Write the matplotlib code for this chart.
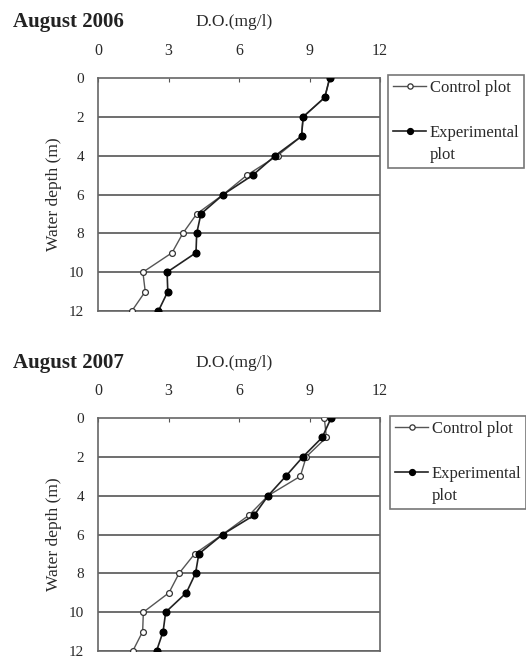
import matplotlib
matplotlib.use("Agg")
import matplotlib.pyplot as plt
from matplotlib.lines import Line2D

depth = [0, 1, 2, 3, 4, 5, 6, 7, 8, 9, 10, 11, 12]
ctrl_2006 = [9.86, 9.65, 8.73, 8.66, 7.64, 6.34, 5.33, 4.20, 3.61, 3.15, 1.91, 2.01, 1.44]
exp_2006 = [9.86, 9.65, 8.73, 8.66, 7.54, 6.59, 5.33, 4.38, 4.20, 4.17, 2.94, 2.97, 2.57]
ctrl_2007 = [9.63, 9.72, 8.86, 8.61, 7.24, 6.43, 5.30, 4.11, 3.45, 3.02, 1.93, 1.90, 1.48]
exp_2007 = [9.92, 9.54, 8.72, 7.99, 7.24, 6.65, 5.30, 4.29, 4.15, 3.76, 2.88, 2.77, 2.49]
x_ticks = [0, 3, 6, 9, 12]
y_ticks = [0, 2, 4, 6, 8, 10, 12]
titles = ["August 2006", "August 2007"]
xlabel = "D.O.(mg/l)"
ylabel = "Water depth (m)"
labels = ["Control plot", " ", "Experimental", "plot"]

plt.rcParams['font.family'] = ['Liberation Serif', 'DejaVu Serif']
W, H = 526, 660
fig = plt.figure(figsize=(W / 100, H / 100), dpi=100)

def px(x0, y0, x1, y1):
    return [x0 / W, 1 - y1 / H, (x1 - x0) / W, (y1 - y0) / H]

specs = [
    (px(98, 78, 380, 311), ctrl_2006, exp_2006, 22, (388, 75)),
    (px(98, 418, 380, 651), ctrl_2007, exp_2007, 363, (390, 416)),
]
txtc = "#2a2a2a"
for i, (rect, c, e, ty, lg) in enumerate(specs):
    ax = fig.add_axes(rect)
    ax.set_xlim(0, 12)
    ax.set_ylim(12, 0)
    ax.xaxis.tick_top()
    ax.set_xticks(x_ticks)
    ax.set_yticks(y_ticks)
    ax.tick_params(axis='x', direction='in', length=3, color='#555555', pad=14,
                   labelsize=11.5, labelcolor=txtc)
    ax.tick_params(axis='y', length=0, pad=10, labelsize=11, labelcolor=txtc)
    for yv in y_ticks[1:]:
        ax.axhline(yv, color='#555555', lw=1.2, zorder=1)
    for s in ax.spines.values():
        s.set_color('#666666')
        s.set_linewidth(1.2)
    l1, = ax.plot(c, depth, color='#555555', lw=1.0, marker='o', ms=4.2,
                  mfc='white', mec='#333333', mew=0.9, zorder=3)
    l2, = ax.plot(e, depth, color='#222222', lw=1.2, marker='o', ms=4.8,
                  mfc='black', mec='black', zorder=4)
    ax.set_ylabel(ylabel, fontsize=12.5, color=txtc, labelpad=5)
    fig.text(13 / W, 1 - ty / H, titles[i], fontsize=15, fontweight='bold',
             va='center', ha='left', color='#222222')
    fig.text(195 / W, 1 - ty / H, xlabel, fontsize=12.5, va='center', ha='left',
             color=txtc)
    blank = Line2D([], [], color='none')
    h1 = Line2D([], [], color='#555555', lw=1.0, marker='o', ms=3.8,
                mfc='white', mec='#333333', mew=0.9)
    h2 = Line2D([], [], color='#222222', lw=1.2, marker='o', ms=4.2,
                mfc='black', mec='black')
    leg = fig.legend([h1, blank, h2, blank], labels, loc='upper left',
                     bbox_to_anchor=(lg[0] / W, 1 - lg[1] / H),
                     fontsize=12, frameon=True, fancybox=False,
                     handlelength=2.0, handletextpad=0.2, labelspacing=0.38,
                     borderpad=0.3, borderaxespad=0)
    fr = leg.get_frame()
    fr.set_edgecolor('#555555')
    fr.set_linewidth(1.2)
    for t in leg.get_texts():
        t.set_color(txtc)

fig.savefig("out.png", dpi=100)
